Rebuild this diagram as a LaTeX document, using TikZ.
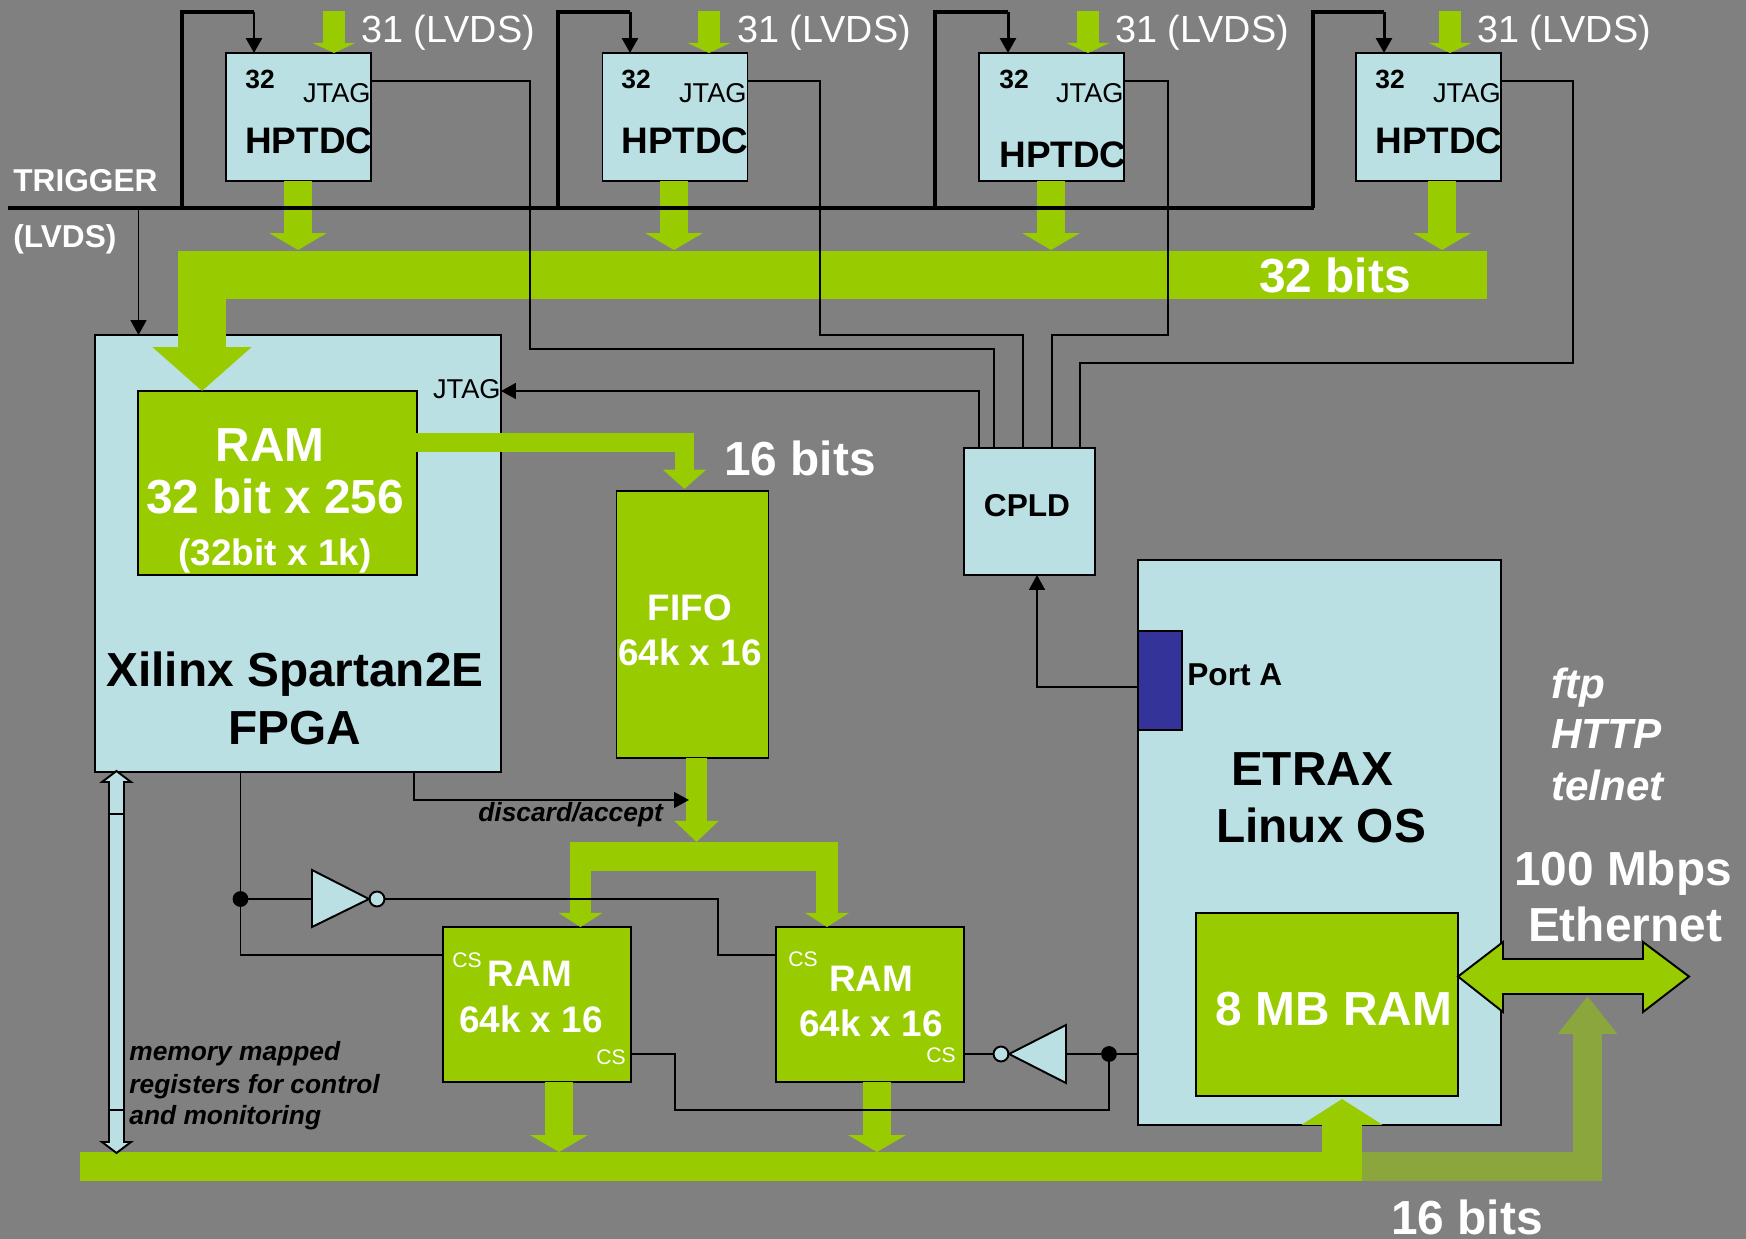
\documentclass[tikz,border=0pt]{standalone}
\usepackage{fontspec}
\setmainfont{Liberation Sans}
\usetikzlibrary{arrows.meta}
\definecolor{bggray}{HTML}{808080}
\definecolor{boxblue}{HTML}{BBE0E3}
\definecolor{busgreen}{HTML}{99CC00}
\definecolor{busdark}{HTML}{8CA63E}
\definecolor{portblue}{HTML}{333399}
\tikzset{
  block/.style={draw=black, line width=1.1pt, inner sep=0pt, outer sep=0pt, fill=boxblue},
  greenblock/.style={block, fill=busgreen},
  wire/.style={draw=black, line width=1.1pt},
  trig/.style={draw=black, line width=2.2pt},
  busline/.style={draw=busgreen, line width=#1},
  busarrow/.style n args={4}{draw=#4, line width=#1, -{Triangle[length=#2, width=#3]}},
  txt/.style={inner sep=0pt, anchor=base},
  txtl/.style={inner sep=0pt, anchor=base west},
  txtr/.style={inner sep=0pt, anchor=base east},
  bigtxt/.style={font=\fontsize{27.2}{30}\selectfont\bfseries},
  midtxt/.style={font=\fontsize{21}{24}\selectfont\bfseries},
  subtxt/.style={font=\fontsize{18}{20}\selectfont\bfseries},
  pintxt/.style={font=\fontsize{15.5}{18}\selectfont},
  notetxt/.style={font=\fontsize{15}{17}\selectfont\bfseries\itshape},
  bubble/.style={circle, draw=black, line width=1.1pt, fill=boxblue, minimum size=8.5pt, inner sep=0pt, outer sep=0pt},
  joint/.style={circle, fill=black, minimum size=9pt, inner sep=0pt, outer sep=0pt}
}
\begin{document}
\begin{tikzpicture}[x=0.02cm, y=-0.02cm, >={Triangle[length=8.5pt, width=9pt]}]
    \useasboundingbox (0,-1) rectangle (1746,1238);
    \fill[bggray] (0,-1) rectangle (1746,1238);
    % blocks
    \foreach \i/\cx in {1/298.5, 2/675, 3/1051.5, 4/1428.5}
      \node[block, minimum width=2.9cm, minimum height=2.56cm] (tdc\i) at (\cx,116) {};
    \node[block, minimum width=8.12cm, minimum height=8.74cm] (fpga) at (298,552.5) {};
    \node[greenblock, minimum width=5.58cm, minimum height=3.68cm] (ramfpga) at (277.5,482) {};
    \node[greenblock, minimum width=3.04cm, minimum height=5.34cm] (fifo) at (692.5,623.5) {};
    \node[greenblock, minimum width=3.76cm, minimum height=3.1cm] (ram1) at (537,1003.5) {};
    \node[greenblock, minimum width=3.76cm, minimum height=3.1cm] (ram2) at (870,1003.5) {};
    \node[block, minimum width=2.62cm, minimum height=2.54cm] (cpld) at (1029.5,510.5) {};
    \node[block, minimum width=7.26cm, minimum height=11.3cm] (etrax) at (1319.5,841.5) {};
    \node[block, fill=portblue, minimum width=0.89cm, minimum height=1.98cm] (porta) at (1160,679.5) {};
    \node[greenblock, minimum width=5.24cm, minimum height=3.66cm] (ram8) at (1327,1003.5) {};
    % green buses
    \foreach \i/\xin/\xout in {1/334/298, 2/709/674, 3/1088/1051, 4/1450/1442} {
      \draw[busarrow={12.5pt}{5.7pt}{24pt}{busgreen}] (\xin,10) -- (tdc\i.north -| \xin,0);
      \coordinate (drop\i) at (\xout,249);
      \draw[busarrow={16.4pt}{9.6pt}{32.3pt}{busgreen}] (tdc\i.south -| \xout,0) -- (drop\i);
    }
    \coordinate (busend) at (1487,274);
    \coordinate (ramin) at (202,390);
    \draw[busarrow={27.8pt}{25pt}{55pt}{busgreen}] (busend) -| (ramin);
    \coordinate (fifoin) at (684.5,488);
    \draw[busarrow={11.3pt}{11pt}{24pt}{busgreen}] ([xshift=-1pt]ramfpga.east |- 0,441.5) -| (fifoin);
    \coordinate (forkin) at (696.5,841);
    \draw[busarrow={12pt}{12pt}{24.5pt}{busgreen}] (fifo.south -| 696.5,0) -- (forkin);
    \draw[busline=16.4pt] (838,855.5) -- (570,855.5);
    \draw[busarrow={12.5pt}{8pt}{24.5pt}{busgreen}] (827,855.5) -- (ram2.north -| 827,0);
    \draw[busarrow={12pt}{8pt}{24.5pt}{busgreen}] (580.5,855.5) -- (ram1.north -| 580.5,0);
    \coordinate (busin1) at (559,1151);
    \coordinate (busin2) at (877,1151);
    \draw[busarrow={16pt}{9.6pt}{32.3pt}{busgreen}] (ram1.south -| busin1) -- (busin1);
    \draw[busarrow={16pt}{9.6pt}{32.3pt}{busgreen}] (ram2.south -| busin2) -- (busin2);
    \coordinate (lowbusL) at (80,1165.5);
    \coordinate (lowbusM) at (1362,1165.5);
    \coordinate (netin) at (1587.5,995);
    \draw[busline=16.4pt] (lowbusL) -- (lowbusM);
    \draw[busarrow={16.4pt}{21.5pt}{32.3pt}{busdark}] (lowbusM) -| (netin);
    \coordinate (ramin8) at (1342,1098);
    \draw[busarrow={22.7pt}{14.7pt}{45.4pt}{busgreen}] (1342,1165.5) -- (ramin8);
    % ethernet and register access
    \draw[line width=1.1pt, fill=busgreen] (1458,975.5) -- (1503,941) -- (1503,958) -- (1643,958) -- (1643,941)
      -- (1689,975.5) -- (1643,1011) -- (1643,993) -- (1503,993) -- (1503,1011) -- cycle;
    \draw[line width=1.1pt, fill=boxblue] (116.5,770) -- (131,781) -- (124,781) -- (124,1141) -- (131,1141)
      -- (116.5,1152) -- (102,1141) -- (109,1141) -- (109,781) -- (102,781) -- cycle;
    \draw[wire] (109,813) -- (124,813);
    \draw[wire] (109,1109) -- (124,1109);
    % trigger
    \coordinate (trigL) at (8,207);
    \coordinate (trigR) at (1314,207);
    \draw[trig] (trigL) -- (trigR);
    \foreach \i/\xl/\xa in {1/182/254, 2/558/630, 3/935/1008, 4/1313/1384} {
      \draw[trig] (\xl,207) -- (\xl,11) -- (\xa,11);
      \draw[->, line width=1.7pt] (\xa,11) -- (tdc\i.north -| \xa,0);
    }
    \draw[wire, ->] (138.5,207) -- (fpga.north -| 138.5,0);
    % jtag chain
    \draw[wire] (tdc1.east |- 0,80) -| (530,348) -| (cpld.north -| 994,0);
    \draw[wire] (tdc2.east |- 0,80) -| (820,334) -| (cpld.north -| 1023,0);
    \draw[wire] (tdc3.east |- 0,80) -| (1168,334) -| (cpld.north -| 1052,0);
    \draw[wire] (tdc4.east |- 0,80) -| (1573,362) -| (cpld.north -| 1080,0);
    \draw[wire, ->] (cpld.north -| 979,0) |- (fpga.east |- 0,390);
    \draw[wire, ->] (porta.west |- 0,686) -| (cpld.south -| 1037,0);
    \draw[wire, ->] (fpga.south -| 414,0) |- (689,799);
    % chip selects
    \node[joint] (dot1) at (240.5,898) {};
    \node[bubble] (inv1b) at (377,898) {};
    \draw[line width=1.1pt, fill=boxblue] (312,869) -- (369,898) -- (312,926) -- cycle;
    \node[joint] (dot2) at (1109,1053) {};
    \node[bubble] (inv2b) at (1001,1053) {};
    \draw[line width=1.1pt, fill=boxblue] (1066,1024) -- (1009,1053) -- (1066,1082) -- cycle;
    \draw[wire] (fpga.south -| dot1) -- (dot1);
    \draw[wire] (dot1) |- (ram1.west |- 0,954);
    \draw[wire] (dot1) -- (312,898);
    \draw[wire] (inv1b) -- (718,898) |- (ram2.west |- 0,954);
    \draw[wire] (ram2.east |- inv2b) -- (inv2b);
    \draw[wire] (etrax.west |- dot2) -- (dot2) -- (1066,1053);
    \draw[wire] (dot2) |- (675,1109) |- (ram1.east |- 0,1053);
    % texts
    \foreach \i/\xn/\xb/\yb/\xv in {1/245/371/153/361, 2/621/747/153/737, 3/999/1124/167/1115, 4/1375/1501/153/1477} {
      \node[txtl, font=\fontsize{15}{17}\selectfont\bfseries] (numlab\i) at (\xn,88) {32};
      \node[txtr, pintxt] (pinlab\i) at (\xb,102) {JTAG};
      \node[txtl, midtxt] (tdclab\i) at (\xn,\yb) {HPTDC};
      \node[txtl, white, font=\fontsize{21.5}{24}\selectfont] (lvdslab\i) at (\xv,42) {31 (LVDS)};
    }
    \node[txtl, subtxt, white] (triglab) at (13,191) {TRIGGER};
    \node[txtl, subtxt, white] (lvdslab) at (13,247) {(LVDS)};
    \node[txtr, pintxt] (fpgajtag) at (501,398) {JTAG};
    \node[txtl, bigtxt, white] (bits32) at (1259,292) {32 bits};
    \node[txtl, bigtxt, white] (bits16a) at (724,475) {16 bits};
    \node[txtl, bigtxt, white] (bits16b) at (1391,1233) {16 bits};
    \node[txt, bigtxt, white] (ramlab) at (270,460) {RAM};
    \node[txt, bigtxt, white] (ramsize) at (275,513) {32 bit x 256};
    \node[txt, midtxt, white] (ramalt) at (275,564) {(32bit x 1k)};
    \node[txt, bigtxt] (fpgalab) at (295,685) {Xilinx Spartan2E};
    \node[txt, bigtxt] (fpgatype) at (295,743) {FPGA};
    \node[txt, midtxt, white] (fifolab) at (690,619) {FIFO};
    \node[txt, midtxt, white] (fifosize) at (690,664) {64k x 16};
    \node[txt, midtxt, white] (ram1lab) at (530,985) {RAM};
    \node[txt, midtxt, white] (ram1size) at (531,1031) {64k x 16};
    \node[txt, midtxt, white] (ram2lab) at (871,990) {RAM};
    \node[txt, midtxt, white] (ram2size) at (871,1035) {64k x 16};
    \foreach \n/\xc/\yc in {a/452/966, b/596/1063, c/788/965, d/926/1061}
      \node[txtl, white, font=\fontsize{12}{14}\selectfont] (cs\n) at (\xc,\yc) {CS};
    \node[txt, subtxt] (cpldlab) at (1027,516) {CPLD};
    \node[txtl, subtxt] (portlab) at (1187,684) {Port A};
    \node[txt, bigtxt] (etraxlab) at (1312,784) {ETRAX};
    \node[txt, bigtxt] (oslab) at (1321,841) {Linux OS};
    \node[txt, bigtxt, white] (ram8lab) at (1334,1024) {8 MB RAM};
    \node[txt, bigtxt, white] (netlab) at (1623,884) {100 Mbps};
    \node[txt, bigtxt, white] (ethlab) at (1625,940) {Ethernet};
    \foreach \n/\yc in {ftp/697, HTTP/747, telnet/799}
      \node[txtl, white, font=\fontsize{24}{26}\selectfont\bfseries\itshape] (svc\n) at (1551,\yc) {\n};
    \node[txtl, notetxt] (discardlab) at (478,820) {discard/accept};
    \node[txtl, notetxt] (memlab) at (129,1059) {memory mapped};
    \node[txtl, notetxt] (reglab) at (129,1092) {registers for control};
    \node[txtl, notetxt] (monlab) at (129,1123) {and monitoring};
\end{tikzpicture}
\end{document}
